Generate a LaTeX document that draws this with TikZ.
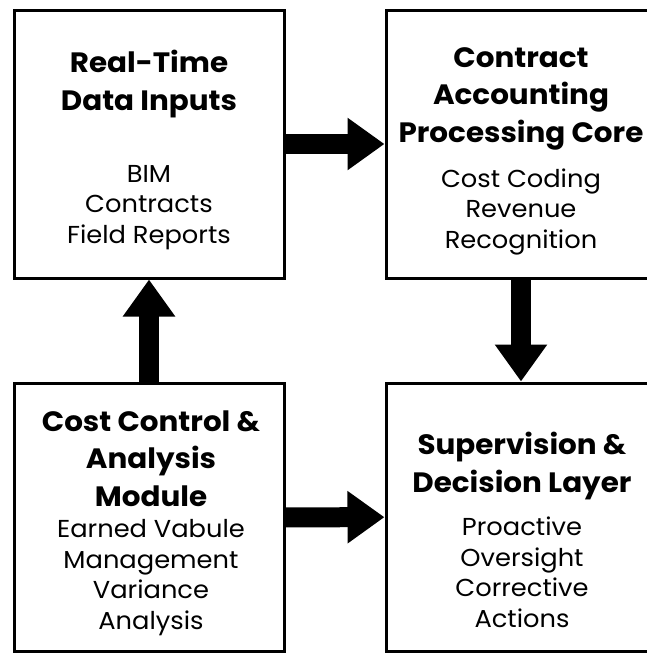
\documentclass[tikz,border=0pt]{standalone}
\usepackage{fontspec}
\setmainfont[FakeStretch=1.05]{Poppins}
\usetikzlibrary{arrows.meta,positioning}
\tikzset{
  block/.style={draw, line width=3pt, minimum width=270pt, minimum height=268pt, inner sep=0pt},
  ttl/.style={anchor=base, align=center, font=\fontsize{28}{37.5}\selectfont\bfseries, inner sep=0pt},
  bdy/.style={anchor=base, align=center, font=\fontsize{24.5}{30.5}\selectfont, inner sep=0pt},
  flow/.style={line width=20pt, -{Triangle[width=50pt,length=37pt]}}
}

\begin{document}
\begin{tikzpicture}[x=1pt,y=-1pt]
\useasboundingbox (0,0) rectangle (646,654);
% the four stages
\node[block] (inputs) at (149,144) {};
\node[block] (core) at (521,144) {};
\node[block] (control) at (149,517.5) {};
\node[block] (decision) at (521,517) {};
% headings and items (placed by their last baseline)
\node[ttl] (inputs-t) at (149,110) {Real-Time\\Data Inputs};
\node[bdy] (inputs-b) at (149,243) {BIM\\Contracts\\Field Reports};
\node[ttl] (core-t) at (521,142) {Contract\\Accounting\\Processing Core};
\node[bdy] (core-b) at (521,248) {Cost Coding\\Revenue\\Recognition};
\node[ttl] (control-t) at (151,506) {Cost Control \&\\Analysis\\Module};
\node[bdy] (control-b) at (151,629) {Earned Vabule\\Management\\Variance\\Analysis};
\node[ttl] (decision-t) at (522,492) {Supervision \&\\Decision Layer};
\node[bdy] (decision-b) at (522,627) {Proactive\\Oversight\\Corrective\\Actions};
% flow between stages
\draw[flow] (inputs) -- (core);
\draw[flow] (core) -- (decision);
\draw[flow] (control) -- (decision);
\draw[flow] (control) -- (inputs);
\end{tikzpicture}
\end{document}
